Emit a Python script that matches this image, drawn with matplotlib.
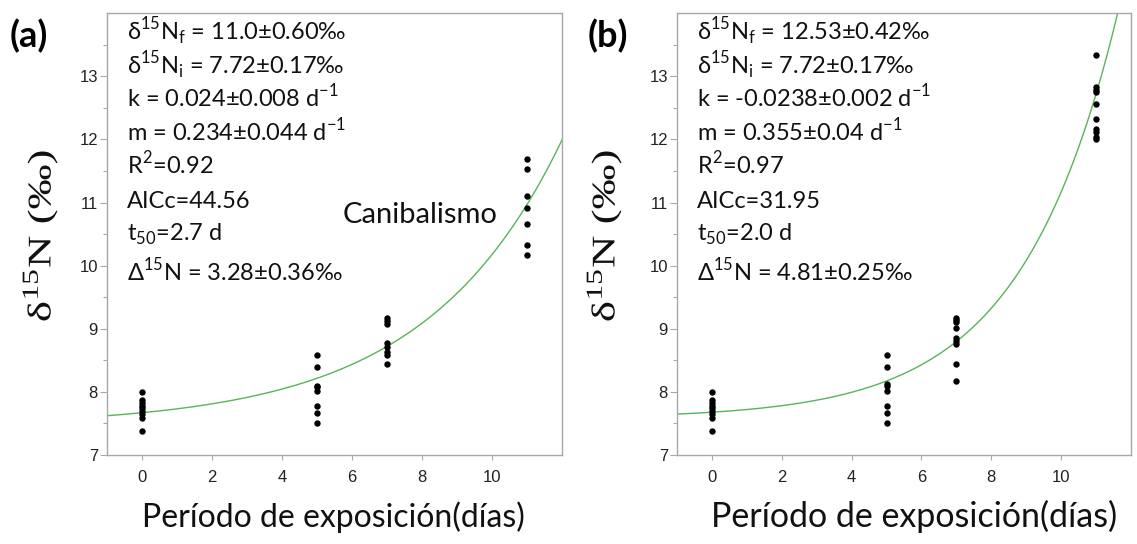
import numpy as np
import matplotlib.pyplot as plt
from matplotlib.textpath import TextPath
from matplotlib.patches import PathPatch
from matplotlib.transforms import Affine2D
from matplotlib.font_manager import FontProperties

plt.rcParams['font.family'] = ['Lato', 'DejaVu Sans']

# δ15N medido por día de exposición, panel (a)
a_dia0 = [8.0, 7.87, 7.82, 7.78, 7.75, 7.70, 7.65, 7.58, 7.38]
a_dia5 = [8.59, 8.40, 8.10, 8.07, 8.01, 7.77, 7.66, 7.50]
a_dia7 = [9.17, 9.13, 9.08, 8.77, 8.71, 8.64, 8.59, 8.45]
a_dia11 = [11.69, 11.53, 11.11, 10.91, 10.66, 10.32, 10.17]

# panel (b)
b_dia0 = [8.0, 7.87, 7.82, 7.78, 7.75, 7.70, 7.65, 7.58, 7.38]
b_dia5 = [8.59, 8.40, 8.12, 8.09, 8.01, 7.77, 7.66, 7.50]
b_dia7 = [9.17, 9.14, 9.10, 9.01, 8.85, 8.80, 8.76, 8.45, 8.17]
b_dia11 = [13.34, 12.83, 12.79, 12.75, 12.56, 12.33, 12.17, 12.12, 12.04, 12.0]

dias = [0, 5, 7, 11]

# ajuste exponencial y = base + amp*exp(tasa*t)
fit_a = (7.46, 0.21, 0.256)
fit_b = (7.58, 0.098, 0.36)

texto_a = [
    'δ$^{\\mathregular{15}}$N$_{\\mathregular{f}}$ = 11.0±0.60‰',
    'δ$^{\\mathregular{15}}$N$_{\\mathregular{i}}$ = 7.72±0.17‰',
    'k = 0.024±0.008 d$^{\\mathregular{-1}}$',
    'm = 0.234±0.044 d$^{\\mathregular{-1}}$',
    'R$^{\\mathregular{2}}$=0.92',
    'AICc=44.56',
    't$_{\\mathregular{50}}$=2.7 d',
    'Δ$^{\\mathregular{15}}$N = 3.28±0.36‰',
]
texto_b = [
    'δ$^{\\mathregular{15}}$N$_{\\mathregular{f}}$ = 12.53±0.42‰',
    'δ$^{\\mathregular{15}}$N$_{\\mathregular{i}}$ = 7.72±0.17‰',
    'k = -0.0238±0.002 d$^{\\mathregular{-1}}$',
    'm = 0.355±0.04 d$^{\\mathregular{-1}}$',
    'R$^{\\mathregular{2}}$=0.97',
    'AICc=31.95',
    't$_{\\mathregular{50}}$=2.0 d',
    'Δ$^{\\mathregular{15}}$N = 4.81±0.25‰',
]
lineas_y = [0.937, 0.862, 0.787, 0.711, 0.636, 0.560, 0.486, 0.394]

W, H = 1137, 544
fig = plt.figure(figsize=(W / 100, H / 100), dpi=100)
ax_a = fig.add_axes([0.0941, 0.1636, 0.4002, 0.812])
ax_b = fig.add_axes([0.5954, 0.1636, 0.3993, 0.812])

gris = '#a8a8a8'
verde = '#58b45a'


def etiqueta_y(cx, cy):
    # etiqueta serif estirada a lo largo del eje
    tp = TextPath((0, 0), 'δ$^{\\mathregular{15}}$N (‰)', size=33,
                  prop=FontProperties(family='Liberation Serif'))
    bb = tp.get_extents()
    tr = (Affine2D().translate(-(bb.x0 + bb.x1) / 2, -(bb.y0 + bb.y1) / 2)
          .scale(1.36, 1.0).rotate_deg(90).translate(cx, H - cy))
    fig.add_artist(PathPatch(tp, transform=tr, facecolor='#111111', lw=0))


def panel(ax, grupos, fit, textos):
    for t, vals in zip(dias, grupos):
        ax.plot([t] * len(vals), vals, 'o', color='black', ms=4.6, mew=0, zorder=3)
    tt = np.linspace(-1, 12.5, 300)
    ax.plot(tt, fit[0] + fit[1] * np.exp(fit[2] * tt), color=verde, lw=1.0, zorder=2)
    ax.set_xlim(-1, 12)
    ax.set_ylim(7, 14)
    ax.set_xticks([0, 2, 4, 6, 8, 10])
    ax.set_yticks([7, 8, 9, 10, 11, 12, 13])
    ax.set_yticks(np.arange(7.5, 14, 1), minor=True)
    for s in ax.spines.values():
        s.set_color(gris)
        s.set_linewidth(1.0)
    ax.tick_params(axis='x', length=3.5, width=0.8, color=gris, pad=7,
                   labelsize=12, labelcolor='#222222', labelfontfamily='Liberation Sans')
    ax.tick_params(axis='y', which='major', length=5, width=0.8, color=gris, pad=1.5,
                   labelsize=12, labelcolor='#222222', labelfontfamily='Liberation Sans')
    ax.tick_params(axis='y', which='minor', length=3, width=0.8, color=gris)
    for txt, y in zip(textos, lineas_y):
        ax.text(0.044, y, txt, transform=ax.transAxes, fontsize=17, va='baseline',
                ha='left', color='#111111')


panel(ax_a, [a_dia0, a_dia5, a_dia7, a_dia11], fit_a, texto_a)
panel(ax_b, [b_dia0, b_dia5, b_dia7, b_dia11], fit_b, texto_b)

fig.text(333 / W, 0.031, 'Período de exposición(días)',
         ha='center', va='baseline', fontsize=23, color='#111111')
fig.text(914 / W, 0.031, 'Período de exposición(días)',
         ha='center', va='baseline', fontsize=24.5, color='#111111')

etiqueta_y(40, 236)
etiqueta_y(604, 236)

ax_a.text(5.74, 10.67, 'Canibalismo', fontsize=21, va='baseline', ha='left', color='#111111')

fig.text(10 / W, 0.914, '(a)', fontsize=26, fontweight='bold', va='baseline', ha='left')
fig.text(588 / W, 0.914, '(b)', fontsize=26, fontweight='bold', va='baseline', ha='left')

fig.savefig('out.png', dpi=100, facecolor='white')
